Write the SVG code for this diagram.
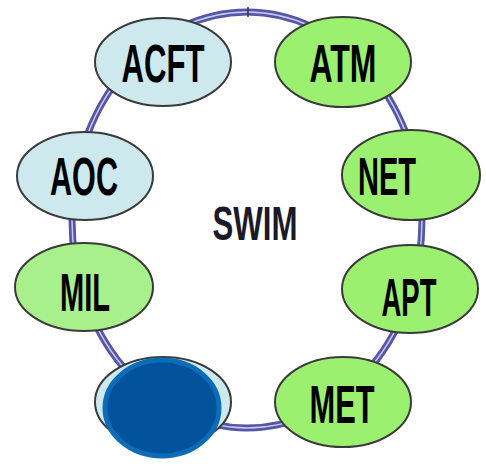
<svg xmlns="http://www.w3.org/2000/svg" width="486" height="466" viewBox="0 0 486 466">
<style>
.node{stroke:#3a3a3a;stroke-width:2}
.blue{fill:#CDE9EE}
.green{fill:#9CF070}
.lbl{font-family:"Liberation Sans",Arial,sans-serif;font-weight:bold;font-size:54px;fill:#000;text-anchor:middle}
</style>
<rect width="486" height="466" fill="#fff"/>
<g id="connectors">
<ellipse cx="247" cy="220" rx="175" ry="208" fill="none" stroke="#5656A8" stroke-width="7"/>
<ellipse cx="247" cy="220" rx="175" ry="208" fill="none" stroke="#C8C8EC" stroke-width="1.5"/>
<line x1="248" y1="7" x2="248" y2="17" stroke="#333" stroke-width="1.5"/>
</g>
<g id="ACFT"><ellipse class="node blue" cx="163" cy="62" rx="68" ry="44"/><text class="lbl" x="163" y="82" textLength="83" lengthAdjust="spacingAndGlyphs">ACFT</text></g>
<g id="ATM"><ellipse class="node green" cx="343" cy="62" rx="68" ry="45"/><text class="lbl" x="343" y="82" textLength="67" lengthAdjust="spacingAndGlyphs">ATM</text></g>
<g id="AOC"><ellipse class="node blue" cx="85" cy="176" rx="68" ry="44"/><text class="lbl" x="84" y="195" textLength="68" lengthAdjust="spacingAndGlyphs">AOC</text></g>
<g id="NET"><ellipse class="node green" cx="411" cy="175" rx="69" ry="45"/><text class="lbl" x="387" y="195" textLength="58" lengthAdjust="spacingAndGlyphs">NET</text></g>
<g id="MIL"><ellipse class="node" fill="#A8F08C" cx="84" cy="287" rx="69" ry="44"/><text class="lbl" x="85" y="311" textLength="50" lengthAdjust="spacingAndGlyphs">MIL</text></g>
<g id="APT"><ellipse class="node green" cx="410" cy="289" rx="68" ry="44"/><text class="lbl" x="409" y="316" textLength="55" lengthAdjust="spacingAndGlyphs">APT</text></g>
<g id="MET"><ellipse class="node green" cx="343" cy="402" rx="68" ry="45"/><text class="lbl" x="342" y="423" textLength="65" lengthAdjust="spacingAndGlyphs">MET</text></g>
<g id="hidden"><ellipse class="node blue" cx="163" cy="402" rx="68" ry="45"/><ellipse cx="162" cy="408" rx="57" ry="48" fill="#02529C" stroke="#0C6CB8" stroke-width="5"/></g>
<g id="SWIM"><text x="255" y="240" font-family="'Liberation Sans',Arial,sans-serif" font-weight="bold" font-size="48" fill="#1a1a28" text-anchor="middle" textLength="85" lengthAdjust="spacingAndGlyphs">SWIM</text></g>
</svg>
